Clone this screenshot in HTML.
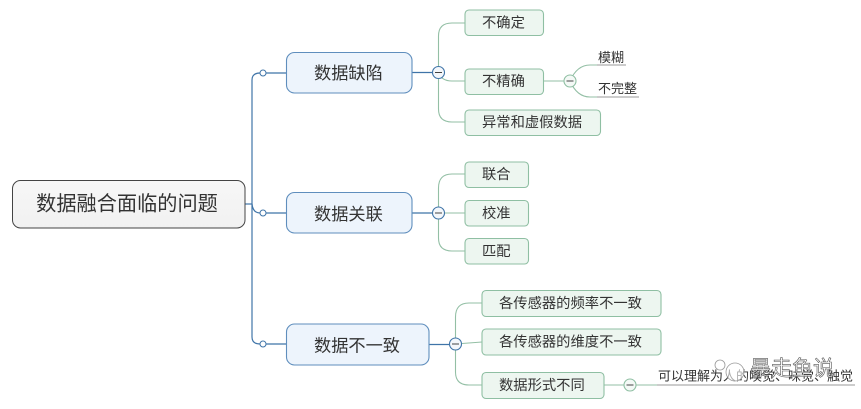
<!DOCTYPE html>
<html><head><meta charset="utf-8">
<style>
html,body{margin:0;padding:0;background:#fff;width:861px;height:409px;overflow:hidden}
svg{display:block;filter:blur(.3px)}
text{font-family:"Liberation Sans","Noto Sans CJK SC",sans-serif;fill:#333;dominant-baseline:central}
</style></head><body>
<svg width="861" height="409" viewBox="0 0 861 409" xmlns="http://www.w3.org/2000/svg">
<defs>
<linearGradient id="r" x1="0" y1="0" x2="0" y2="1"><stop offset="0" stop-color="#f7f7f7"/><stop offset="1" stop-color="#f1f1f1"/></linearGradient>
</defs>
<!-- trunk -->
<g fill="none" stroke="#3f74a8" stroke-width="1.2">
<path d="M245 204H252"/>
<path d="M252 204V80Q252 73 260 73H286"/>
<path d="M252 204Q253 213 260 213H286"/>
<path d="M252 204V337Q252 344 260 344H286"/>
<path d="M412 72.500H432M412 213H432M429 344.500H449"/>
</g>
<g fill="#fff" stroke="#3f74a8" stroke-width="1">
<circle cx="263" cy="73" r="3"/><circle cx="263" cy="213" r="3"/><circle cx="263" cy="344" r="3"/>
</g>
<!-- green connectors -->
<g fill="none" stroke="#93bfa5" stroke-width="1.1">
<path d="M438.500 72V36Q438.500 23 452 23H465"/>
<path d="M438.500 72Q441 81 452 81H465"/>
<path d="M438.500 72V109Q438.500 122 452 122H465"/>
<path d="M438.500 213V188Q438.500 174 452 174H465"/>
<path d="M438.500 213H465"/>
<path d="M438.500 213V238Q438.500 251 452 251H465"/>
<path d="M455.500 344V317Q455.500 303 469 303H482"/>
<path d="M455.500 344L482 342"/>
<path d="M455.500 344V372Q455.500 385 469 385H482"/>
<path d="M543.500 81H565"/>
<path d="M604 385H625"/>
<path d="M570 81Q577 65 590 65H597"/>
<path d="M570 81Q577 97 590 97H597"/>
<path d="M636 385H660"/>
</g>
<!-- underlines -->
<g stroke="#9a9a9a" stroke-width="1.1">
<path d="M597 65H626M597 97H639M657 385H855"/>
</g>
<!-- root -->
<rect x="12.500" y="180.500" width="232.500" height="47.500" rx="8" fill="url(#r)" stroke="#444" stroke-width="1"/>
<text x="127" y="204.500" font-size="20.200" text-anchor="middle">数据融合面临的问题</text>
<!-- topics -->
<g fill="#edf4fc" stroke="#5f8ebd" stroke-width="1.1">
<rect x="286.500" y="52.500" width="125.500" height="40.500" rx="8"/>
<rect x="286.500" y="192.500" width="125.500" height="40.500" rx="8"/>
<rect x="286.500" y="324" width="142.500" height="41" rx="8"/>
</g>
<g font-size="17.200" text-anchor="start">
<text x="314" y="72.800">数据缺陷</text>
<text x="314" y="213.800">数据关联</text>
<text x="314" y="345.300">数据不一致</text>
</g>
<!-- subtopics -->
<g fill="#edf6f0" stroke="#8fbfa3" stroke-width="1.1">
<rect x="465" y="10" width="78.500" height="25.500" rx="4"/>
<rect x="465" y="69" width="78.500" height="25.500" rx="4"/>
<rect x="465" y="110" width="135.500" height="25.500" rx="4"/>
<rect x="465" y="162" width="63.500" height="25.500" rx="4"/>
<rect x="465" y="200.500" width="63.500" height="25.500" rx="4"/>
<rect x="465" y="238.500" width="63.500" height="25.500" rx="4"/>
<rect x="482" y="290.500" width="179" height="26" rx="4"/>
<rect x="482" y="329" width="179" height="26" rx="4"/>
<rect x="482" y="372.500" width="122" height="26" rx="4"/>
</g>
<g font-size="14.300">
<text x="482" y="23.500">不确定</text>
<text x="482" y="82">不精确</text>
<text x="482" y="123">异常和虚假数据</text>
<text x="482" y="175">联合</text>
<text x="482" y="213.800">校准</text>
<text x="482" y="252">匹配</text>
<text x="499" y="304">各传感器的频率不一致</text>
<text x="499" y="342.500">各传感器的维度不一致</text>
<text x="499" y="386">数据形式不同</text>
</g>
<g font-size="13">
<text x="598" y="57.500">模糊</text>
<text x="598" y="88.500">不完整</text>
<text x="658" y="376">可以理解为人的嗅觉、味觉、触觉</text>
</g>
<!-- collapse buttons -->
<g fill="#f4f7fb" stroke="#3f74a8" stroke-width="1.1">
<circle cx="438.500" cy="72.500" r="6"/><circle cx="438.500" cy="213" r="6"/><circle cx="455.500" cy="344" r="6"/>
</g>
<g fill="#f4f9f6" stroke="#8fbfa3" stroke-width="1.1">
<circle cx="570" cy="81" r="6"/><circle cx="630" cy="385" r="6"/>
</g>
<g stroke="#444" stroke-width="1.1">
<path d="M435 72.500H442M435 213H442M452 344H459M566.500 81H573.500M626.500 385H633.500"/>
</g>
<!-- watermark -->
<g fill="rgba(255,255,255,.6)" stroke="#999" stroke-width=".8">
<circle cx="735" cy="372" r="9"/><circle cx="720" cy="365" r="5"/>
</g>
<text x="750" y="369" font-size="21" style="fill:rgba(255,255,255,.75);stroke:#555;stroke-width:.6">暴走鱼说</text>
</svg>
</body></html>
